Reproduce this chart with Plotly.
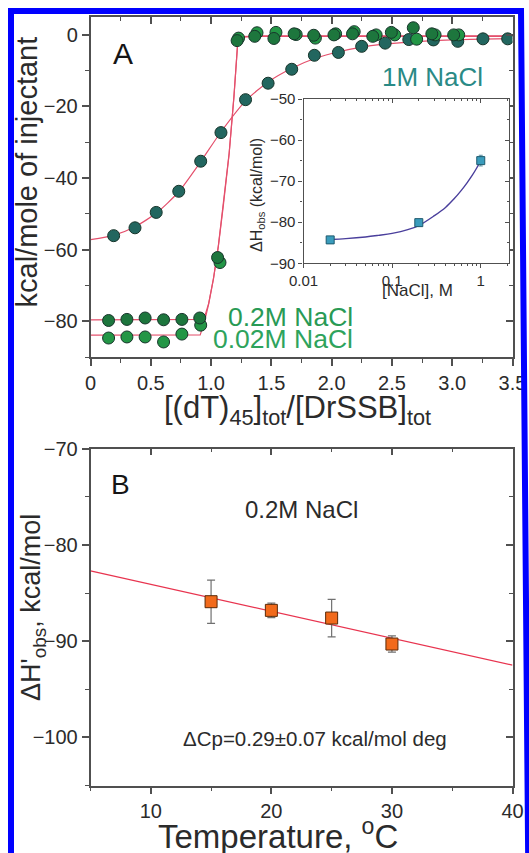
import plotly.graph_objects as go

W, H = 529, 853
FONT = "Liberation Sans, Arial, sans-serif"

# ---------------- Panel A data ----------------
x_1M = [0.192, 0.369, 0.545, 0.732, 0.914, 1.082, 1.286, 1.473, 1.669, 1.857,
        2.056, 2.249, 2.444, 2.640, 2.844, 3.046, 3.255, 3.460]
y_1M = [-56.1, -53.9, -49.6, -43.7, -35.3, -27.3, -18.1, -13.5, -9.6, -5.7,
        -4.9, -3.2, -2.3, -1.3, -1.4, -1.8, -1.1, -1.1]

x_02M = [0.150, 0.302, 0.453, 0.606, 0.758, 0.906, 1.054, 1.216, 1.362, 1.521,
         1.689, 1.851, 2.019, 2.173, 2.341, 2.495, 2.677, 2.831, 3.012]
y_02M = [-79.8, -79.5, -79.1, -79.6, -79.5, -79.1, -62.2, -1.6, -0.4, -1.0,
         0.3, -0.1, 0.0, 0.3, -0.4, 0.7, 2.0, 0.3, 0.0]

x_002M = [0.150, 0.302, 0.453, 0.606, 0.758, 0.914, 1.074, 1.228, 1.381, 1.538,
          1.706, 1.865, 2.033, 2.187, 2.369, 2.523, 2.705, 2.858, 3.054]
y_002M = [-84.7, -84.4, -84.4, -85.8, -83.6, -81.1, -63.6, -0.9, 0.6, 0.7,
          0.1, -0.9, 0.3, 0.9, 0.0, 0.0, -1.2, 0.0, 0.0]

fit_1M_x = [0, 0.19, 0.37, 0.55, 0.73, 0.91, 1.08, 1.29, 1.47, 1.67, 1.86, 2.06,
            2.25, 2.44, 2.64, 2.84, 3.05, 3.25, 3.5]
fit_1M_y = [-57.2, -56.0, -53.6, -49.7, -43.9, -35.6, -27.2, -18.3, -13.2, -9.3,
            -6.6, -4.7, -3.4, -2.6, -2.0, -1.6, -1.35, -1.2, -1.05]

fit_02M_x = [0, 0.94, 0.98, 1.02, 1.06, 1.10, 1.15, 1.19, 1.22, 1.26, 1.4, 3.5]
fit_02M_y = [-79.6, -79.5, -75, -68, -59, -48, -33, -17, -2.5, -0.5, -0.3, -0.3]

fit_002M_x = [0, 0.91, 0.95, 0.98, 1.02, 1.06, 1.10, 1.15, 1.19, 1.22, 1.26, 1.4, 3.5]
fit_002M_y = [-83.9, -83.8, -79.5, -75.2, -68.2, -59.2, -48.2, -33.2, -17.2, -2.7, -0.6, -0.4, -0.4]

xA_tickvals = [0, 0.5, 1.0, 1.5, 2.0, 2.5, 3.0, 3.5]
xA_ticktext = ["0", "0.5", "1.0", "1.5", "2.0", "2.5", "3.0", "3.5"]

# ---------------- Inset data ----------------
nacl = [0.02, 0.2, 1.0]
dH_nacl = [-84.3, -80.1, -65.0]
dH_nacl_err = [0.5, 0.6, 1.3]
fit_nacl_x = [0.02, 0.03, 0.05, 0.07, 0.1, 0.15, 0.2, 0.3, 0.4, 0.5, 0.6, 0.7, 0.8, 0.9, 1.0]
fit_nacl_y = [-84.2, -84.0, -83.6, -83.2, -82.7, -81.8, -80.8, -78.4, -76.4, -74.3,
              -72.3, -70.4, -68.6, -66.8, -65.0]
inset_tickvals = [0.01, 0.1, 1]
inset_ticktext = ["0.01", "0.1", "1"]
inset_minor = [0.02, 0.03, 0.04, 0.05, 0.06, 0.07, 0.08, 0.09,
               0.2, 0.3, 0.4, 0.5, 0.6, 0.7, 0.8, 0.9, 2]

# ---------------- Panel B data ----------------
temp = [15, 20, 25, 30]
dH_T = [-85.9, -86.8, -87.6, -90.3]
dH_T_err = [2.25, 0.75, 1.95, 0.85]
fitB_x = [5, 40]
fitB_y = [-82.7, -92.5]


def px(x):
    return x / W


def py(y):
    return 1 - y / H


# domains (pixel based)
A_x = [px(90.5), px(512.5)]
A_y = [py(357), py(17)]
I_x = [px(303.5), px(509.3)]
I_y = [py(263.3), py(99)]
B_x = [px(90.5), px(512.5)]
B_y = [py(785.5), py(448.7)]

AX = "#505050"
TXT = "#2b2b2b"
FIT = "#e4506c"

fig = go.Figure()

mk_line = dict(color="#17352b", width=1)
# Panel A fits
fig.add_trace(go.Scatter(x=fit_1M_x, y=fit_1M_y, mode="lines", line=dict(color=FIT, width=1.2, shape="spline", smoothing=0.6),
                         xaxis="x", yaxis="y"))
fig.add_trace(go.Scatter(x=fit_02M_x, y=fit_02M_y, mode="lines", line=dict(color=FIT, width=1.2),
                         xaxis="x", yaxis="y"))
fig.add_trace(go.Scatter(x=fit_002M_x, y=fit_002M_y, mode="lines", line=dict(color=FIT, width=1.2),
                         xaxis="x", yaxis="y"))
# Panel A points
fig.add_trace(go.Scatter(x=x_1M, y=y_1M, mode="markers",
                         marker=dict(size=12, color="#22665f", line=mk_line), xaxis="x", yaxis="y"))
fig.add_trace(go.Scatter(x=x_002M, y=y_002M, mode="markers",
                         marker=dict(size=12, color="#239646", line=mk_line), xaxis="x", yaxis="y"))
fig.add_trace(go.Scatter(x=x_02M, y=y_02M, mode="markers",
                         marker=dict(size=12, color="#1d763d", line=mk_line), xaxis="x", yaxis="y"))
# dummy for overlay axes A
fig.add_trace(go.Scatter(x=[None], y=[None], xaxis="x2", yaxis="y2", mode="markers"))

# Inset
fig.add_trace(go.Scatter(x=fit_nacl_x, y=fit_nacl_y, mode="lines",
                         line=dict(color="#4a3f9c", width=1.4, shape="spline"), xaxis="x3", yaxis="y3"))
fig.add_trace(go.Scatter(x=nacl, y=dH_nacl, mode="markers",
                         error_y=dict(type="data", array=dH_nacl_err, color="#5a8fa0", thickness=1, width=2),
                         marker=dict(symbol="square", size=8, color="#3a9cbc", line=dict(color="#1e5a6e", width=1)),
                         xaxis="x3", yaxis="y3"))
fig.add_trace(go.Scatter(x=[None], y=[None], xaxis="x4", yaxis="y4", mode="markers"))

# Panel B
fig.add_trace(go.Scatter(x=fitB_x, y=fitB_y, mode="lines", line=dict(color="#e8344f", width=1.3),
                         xaxis="x5", yaxis="y5"))
fig.add_trace(go.Scatter(x=temp, y=dH_T, mode="markers",
                         error_y=dict(type="data", array=dH_T_err, color="#707070", thickness=1.2, width=4),
                         marker=dict(symbol="square", size=12, color="#f26a1b", line=dict(color="#5a2a08", width=1)),
                         xaxis="x5", yaxis="y5"))
fig.add_trace(go.Scatter(x=[None], y=[None], xaxis="x6", yaxis="y6", mode="markers"))


def base_axis(size=20, tl=7, mtl=4, lw=1.5):
    return dict(showline=True, linecolor=AX, linewidth=lw, ticks="outside", ticklen=tl,
                tickwidth=lw, tickcolor=AX, showgrid=False, zeroline=False, automargin=False,
                tickfont=dict(family=FONT, size=size, color=TXT),
                minor=dict(ticks="outside", ticklen=mtl, tickwidth=lw * 0.8, tickcolor=AX))


def over_axis(tl=7, mtl=4, lw=1.5):
    return dict(showline=True, linecolor=AX, linewidth=lw, ticks="inside", ticklen=tl,
                tickwidth=lw, tickcolor=AX, showgrid=False, zeroline=False, showticklabels=False,
                automargin=False,
                minor=dict(ticks="inside", ticklen=mtl, tickwidth=lw * 0.8, tickcolor=AX))


# Panel A axes
xa = base_axis(); xa.update(domain=A_x, range=[0, 3.5], anchor="y", tickmode="array",
                            tickvals=xA_tickvals, ticktext=xA_ticktext)
xa["minor"].update(dtick=0.25, tick0=0)
ya = base_axis(); ya.update(domain=A_y, range=[-90, 5], anchor="x", dtick=20, tick0=0)
ya["minor"].update(dtick=10, tick0=0)
xa2 = over_axis(); xa2.update(range=[0, 3.5], overlaying="x", anchor="y", side="top", dtick=0.5, tick0=0)
xa2["minor"].update(dtick=0.25, tick0=0)
ya2 = over_axis(); ya2.update(range=[-90, 5], overlaying="y", anchor="x", side="right", dtick=20, tick0=0)
ya2["minor"].update(dtick=10, tick0=0)

# Inset axes
xi = base_axis(size=15, tl=4, mtl=2, lw=1.1); xi.update(domain=I_x, type="log", range=[-2, 0.322], anchor="y3",
                                                      tickmode="array", tickvals=inset_tickvals, ticktext=inset_ticktext)
xi["minor"].update(tickmode="array", tickvals=inset_minor)
yi = base_axis(size=15, tl=4, mtl=2, lw=1.1); yi.update(domain=I_y, range=[-90, -50], anchor="x3", dtick=10, tick0=-90)
yi["minor"].update(dtick=5, tick0=-90)
xi2 = over_axis(tl=4, mtl=2, lw=1.1); xi2.update(type="log", range=[-2, 0.322], overlaying="x3", anchor="y3", side="top",
                                               tickmode="array", tickvals=inset_tickvals)
xi2["minor"].update(tickmode="array", tickvals=inset_minor)
yi2 = over_axis(tl=4, mtl=2, lw=1.1); yi2.update(range=[-90, -50], overlaying="y3", anchor="x3", side="right", dtick=10, tick0=-90)
yi2["minor"].update(dtick=5, tick0=-90)

# Panel B axes
xb = base_axis(); xb.update(domain=B_x, range=[5, 40], anchor="y5", dtick=10, tick0=0)
xb["minor"].update(dtick=5, tick0=0)
yb = base_axis(); yb.update(domain=B_y, range=[-105, -70], anchor="x5", dtick=10, tick0=-70)
yb["minor"].update(dtick=5, tick0=-70)
xb2 = over_axis(); xb2.update(range=[5, 40], overlaying="x5", anchor="y5", side="top", dtick=10, tick0=0)
xb2["minor"].update(dtick=5, tick0=0)
yb2 = over_axis(); yb2.update(range=[-105, -70], overlaying="y5", anchor="x5", side="right", dtick=10, tick0=-70)
yb2["minor"].update(dtick=5, tick0=-70)


def ann(text, x, y, size, color=TXT, angle=0, xanchor="center"):
    return dict(text=text, x=px(x), y=py(y), xref="paper", yref="paper", showarrow=False,
                xanchor=xanchor, yanchor="middle", textangle=angle,
                font=dict(family=FONT, size=size, color=color))


annotations = [
    ann("A", 123, 53, 30, "#151515"),
    ann("1M NaCl", 432, 77, 26, "#2a8a86"),
    ann("0.2M NaCl", 355, 317, 26.5, "#289a55", xanchor="right"),
    ann("0.02M NaCl", 355, 339, 26.5, "#2ea35c", xanchor="right"),
    ann("kcal/mole of injectant", 27, 172.5, 29, TXT, -90),
    ann("[(dT)<sub>45</sub>]<sub>tot</sub>/[DrSSB]<sub>tot</sub>", 297, 410, 31),
    ann("ΔH<sub>obs</sub> (kcal/mol)", 257, 195, 16, TXT, -90),
    ann("[NaCl], M", 417.5, 290.5, 17),
    ann("B", 120, 484, 28, "#151515"),
    ann("0.2M NaCl", 301, 509.5, 24),
    ann("ΔCp=0.29±0.07 kcal/mol deg", 315, 738.5, 20.5),
    ann("ΔH'<sub>obs</sub>, kcal/mol", 33, 608, 27, TXT, -90),
    ann("Temperature, <sup>o</sup>C", 278, 834, 33),
]

frame_path = "M {:.4f},{:.4f} L {:.4f},{:.4f} L {:.4f},{:.4f} L {:.4f},{:.4f}".format(
    px(11), py(900), px(11), py(11), px(521), py(11), px(528.5), py(900))
shapes = [
    dict(type="path", xref="paper", yref="paper", path=frame_path,
         line=dict(color="#0000ff", width=6), layer="above"),
]

fig.update_layout(
    width=W, height=H, margin=dict(l=0, r=0, t=0, b=0, autoexpand=False),
    paper_bgcolor="white", plot_bgcolor="white", showlegend=False,
    xaxis=xa, yaxis=ya, xaxis2=xa2, yaxis2=ya2,
    xaxis3=xi, yaxis3=yi, xaxis4=xi2, yaxis4=yi2,
    xaxis5=xb, yaxis5=yb, xaxis6=xb2, yaxis6=yb2,
    annotations=annotations, shapes=shapes,
    font=dict(family=FONT, color=TXT),
)

fig.write_html("out.html", config={"displayModeBar": False},
               post_script="document.body.style.margin='0px';document.body.style.overflow='hidden';")
